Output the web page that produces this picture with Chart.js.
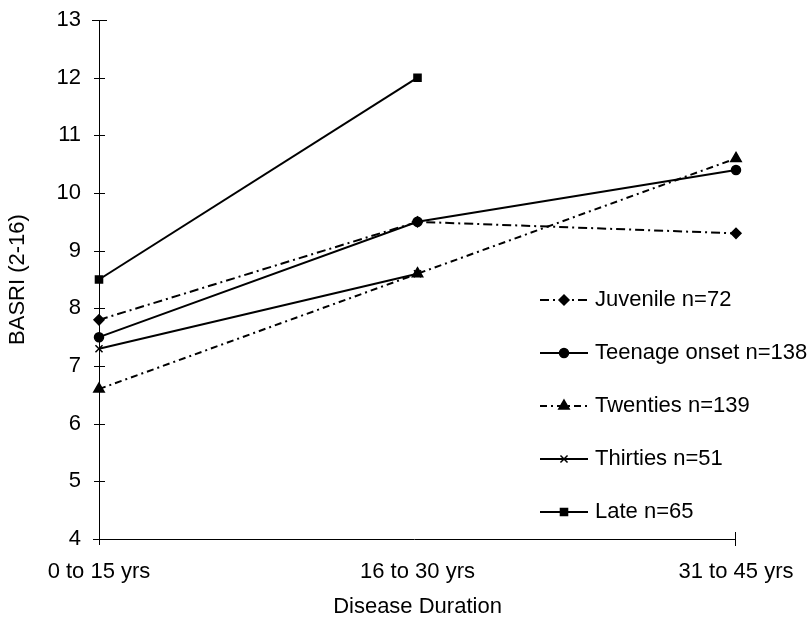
<!DOCTYPE html>
<html>
<head>
<meta charset="utf-8">
<title>BASRI by disease duration and age at onset</title>
<script src="https://cdn.jsdelivr.net/npm/chart.js@4/dist/chart.umd.min.js"></script>
<style>
  html, body { margin: 0; padding: 0; background: #ffffff; }
  canvas { display: block; }
</style>
</head>
<body>
<canvas id="chart" width="808" height="618"></canvas>
<script>
// Disease-duration groups (x categories)
const durations = ['0 to 15 yrs', '16 to 30 yrs', '31 to 45 yrs'];

// Mean BASRI score per onset group
const juvenile = [7.8, 9.5, 9.3];
const teenage  = [7.5, 9.5, 10.4];
const twenties = [6.6, 8.6, 10.6];
const thirties = [7.3, 8.6, null];
const late     = [8.5, 12.0, null];

const seriesNames = ['Juvenile n=72', 'Teenage onset n=138', 'Twenties n=139', 'Thirties n=51', 'Late n=65'];

// Y axis range
const yMin = 4;
const yMax = 13;

const FONT = 'Liberation Sans, Arial, Helvetica, sans-serif';
const FONT_SIZE = 22;
const INK = '#000000';

function series(label, data, pointStyle, radius, dash) {
  return {
    label: label,
    data: data,
    borderColor: INK,
    backgroundColor: INK,
    borderWidth: 2,
    borderDash: dash,
    pointStyle: pointStyle,
    pointRadius: radius,
    pointBorderWidth: 1.5,
    pointBackgroundColor: INK,
    pointBorderColor: INK,
    tension: 0,
    spanGaps: false,
    clip: false
  };
}

const datasets = [
  series(seriesNames[0], juvenile, 'rectRot', 5, [9, 4, 2, 4]),
  series(seriesNames[1], teenage,  'circle', 4.5, []),
  series(seriesNames[2], twenties, 'triangle', 6, [7, 4, 2, 4]),
  series(seriesNames[3], thirties, 'crossRot', 5, []),
  series(seriesNames[4], late,     'rect', 5, [])
];

// Axis lines with short ticks crossing the value axis
const axisPlugin = {
  id: 'plainAxes',
  beforeDatasetsDraw(chart) {
    const ctx = chart.ctx;
    const x = chart.scales.x;
    const y = chart.scales.y;
    const x0 = x.getPixelForValue(0);
    const xEnd = x.getPixelForValue(durations.length - 1);
    const yBase = y.getPixelForValue(yMin);
    const yTop = y.getPixelForValue(yMax);
    ctx.save();
    ctx.strokeStyle = INK;
    ctx.lineWidth = 1;
    ctx.beginPath();
    // value axis
    ctx.moveTo(x0 + 0.5, yTop);
    ctx.lineTo(x0 + 0.5, yBase + 6);
    // category axis
    ctx.moveTo(x0 - 6, Math.round(yBase) + 0.5);
    ctx.lineTo(xEnd, Math.round(yBase) + 0.5);
    // end tick of the category axis
    ctx.moveTo(Math.round(xEnd) - 0.5, yBase - 7);
    ctx.lineTo(Math.round(xEnd) - 0.5, yBase + 7);
    // value ticks
    for (let v = yMin + 1; v <= yMax; v++) {
      const py = Math.round(y.getPixelForValue(v)) + 0.5;
      const half = v === yMax ? 7 : 5;
      ctx.moveTo(x0 - half, py);
      ctx.lineTo(x0 + half + 1, py);
    }
    ctx.stroke();
    ctx.restore();
  }
};

// Legend drawn inside the plot: line sample, marker, label
const legendPlugin = {
  id: 'sampleLegend',
  afterDatasetsDraw(chart) {
    const ctx = chart.ctx;
    const area = chart.chartArea;
    const lineLeft = area.right - 196;
    const lineRight = lineLeft + 48;
    const textLeft = lineRight + 7;
    const firstRow = area.top + 280;
    const rowGap = 53;
    ctx.save();
    ctx.font = FONT_SIZE + 'px ' + FONT;
    ctx.textBaseline = 'middle';
    ctx.textAlign = 'left';
    chart.data.datasets.forEach((ds, i) => {
      const yy = firstRow + i * rowGap;
      ctx.strokeStyle = INK;
      ctx.lineWidth = ds.borderWidth;
      ctx.setLineDash(ds.borderDash || []);
      ctx.beginPath();
      ctx.moveTo(lineLeft, yy);
      ctx.lineTo(lineRight, yy);
      ctx.stroke();
      ctx.setLineDash([]);
      ctx.fillStyle = INK;
      ctx.lineWidth = ds.pointBorderWidth;
      Chart.helpers.drawPoint(ctx, {
        pointStyle: ds.pointStyle,
        radius: ds.pointRadius,
        rotation: 0,
        borderWidth: ds.pointBorderWidth
      }, (lineLeft + lineRight) / 2, yy);
      ctx.fillStyle = INK;
      ctx.fillText(ds.label, textLeft, yy);
    });
    ctx.restore();
  }
};

// Fixed scale sizes; edge-label overhang is covered by the layout padding
function fixSize(prop, size) {
  return function (scale) {
    scale[prop] = size;
    scale.paddingTop = 0;
    scale.paddingBottom = 0;
    scale.paddingLeft = 0;
    scale.paddingRight = 0;
  };
}

new Chart(document.getElementById('chart'), {
  type: 'line',
  data: { labels: durations, datasets: datasets },
  options: {
    responsive: false,
    animation: false,
    devicePixelRatio: 1,
    layout: { padding: { top: 20, right: 72, bottom: 0, left: 0 } },
    plugins: {
      legend: { display: false },
      tooltip: { enabled: false }
    },
    scales: {
      x: {
        type: 'category',
        offset: false,
        grid: { display: false, drawTicks: false },
        border: { display: false },
        ticks: {
          color: INK,
          font: { family: FONT, size: FONT_SIZE },
          padding: 20,
          maxRotation: 0,
          autoSkip: false
        },
        title: {
          display: true,
          text: 'Disease Duration',
          color: INK,
          font: { family: FONT, size: FONT_SIZE },
          padding: { top: 0, bottom: -2 }
        },
        afterFit: fixSize('height', 79)
      },
      y: {
        type: 'linear',
        min: yMin,
        max: yMax,
        grid: { display: false, drawTicks: false },
        border: { display: false },
        ticks: {
          stepSize: 1,
          color: INK,
          font: { family: FONT, size: FONT_SIZE },
          padding: 18
        },
        title: {
          display: true,
          text: 'BASRI (2-16)',
          color: INK,
          font: { family: FONT, size: FONT_SIZE },
          padding: { top: 5, bottom: 0 }
        },
        afterFit: fixSize('width', 99)
      }
    }
  },
  plugins: [axisPlugin, legendPlugin]
});
</script>
</body>
</html>
